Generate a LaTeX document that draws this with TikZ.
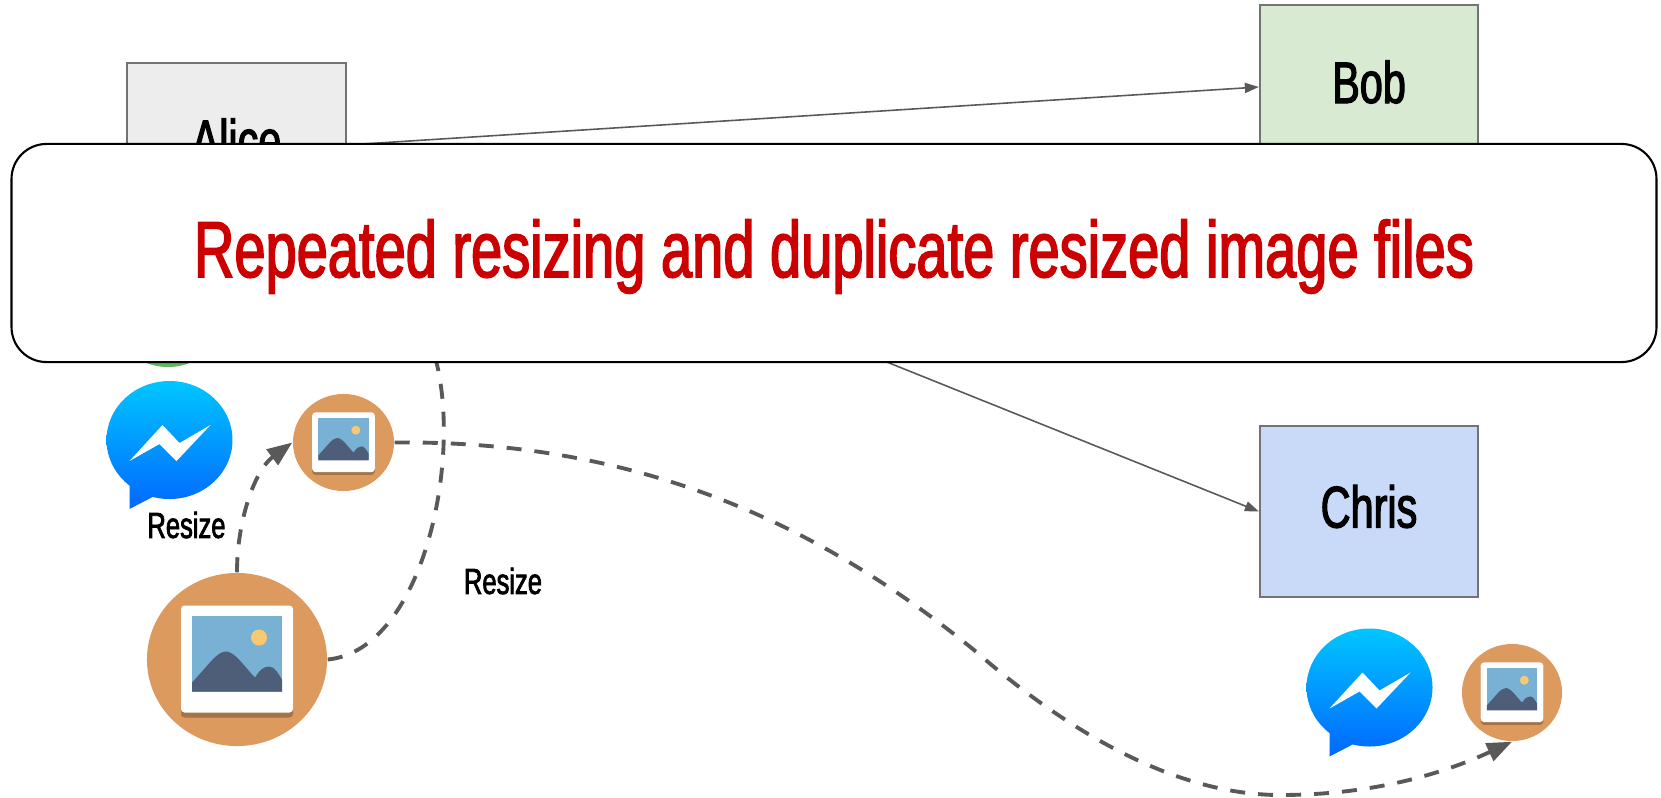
\documentclass[tikz,border=0pt]{standalone}
\usepackage{fontspec}
\setmainfont[FakeStretch=0.705,FakeBold=2]{Liberation Sans}
\usetikzlibrary{arrows.meta,shapes.geometric}
\definecolor{orangeimg}{HTML}{DD9A5E}
\definecolor{linegray}{HTML}{595959}
\tikzset{
  personbox/.style={draw=black!55,line width=0.6pt,minimum width=2.18cm,minimum height=1.71cm,inner sep=0pt,
    text height=0.40cm,text depth=0.08cm,font=\fontsize{16.7}{20}\selectfont},
  imgnode/.style={ellipse,fill=orangeimg,inner sep=0pt},
  resizelabel/.style={inner sep=0pt,font=\fontsize{10.3}{12}\selectfont},
  sendline/.style={draw=linegray,line width=0.45pt,-{Stealth[length=0.14cm,width=0.10cm,inset=0pt]}},
  dashline/.style={draw=linegray,line width=1.1pt,dash pattern=on 0.15cm off 0.13cm},
  dasharrow/.style={dashline,-{Stealth[length=0.25cm,width=0.19cm,inset=0pt]}},
  imgicon/.pic={
    \fill[fill=black!25!orangeimg,rounded corners=1pt] (-56,-50) rectangle (56,58);
    \fill[white,rounded corners=1pt] (-56,-54) rectangle (56,53);
    \fill[fill={rgb,255:red,120;green,177;blue,212}] (-45,-44) rectangle (45,32);
    \fill[fill={rgb,255:red,249;green,200;blue,115}] (22,-22) circle (8);
    \fill[fill={rgb,255:red,79;green,94;blue,120}] (-45,32) -- (-45,23)
      .. controls (-28,5) and (-20,-8) .. (-11,-8)
      .. controls (-2,-8) and (8,8) .. (18,18)
      .. controls (23,10) and (27,7) .. (32,7)
      .. controls (38,7) and (41,14) .. (45,20) -- (45,32) -- cycle;
  },
  messenger/.pic={
    \shade[top color={rgb,255:red,0;green,198;blue,255},bottom color={rgb,255:red,0;green,104;blue,255}]
      (0,0) ellipse (63 and 59) (-40,40) -- (5,40) -- (-15,56) -- (-40,69) -- cycle;
    \fill[white] (-40,21) -- (-7,-15) -- (10,3) -- (41,-15) -- (7,21) -- (-10,4) -- cycle;
  }
}
\begin{document}
\begin{tikzpicture}[x=0.01cm,y=-0.01cm]
\useasboundingbox (0,0) rectangle (1661,797);

\node[personbox,fill=black!7,minimum height=1.64cm] (alice) at (236.5,145) {Alice};
\node[personbox,fill={rgb,255:red,217;green,234;blue,211},minimum height=1.64cm] (bob) at (1369,87) {Bob};
\node[personbox,fill={rgb,255:red,201;green,218;blue,248}] (chris) at (1369,511.5) {Chris};

\fill[fill={rgb,255:red,92;green,184;blue,92}] (168,307) circle (60);

\draw[sendline] (alice.east) -- (bob.west);
\draw[sendline] (alice.east) -- (chris.west);

\node[imgnode,minimum width=1.80cm,minimum height=1.73cm] (bigimg) at (237,659.5) {};
\node[imgnode,minimum width=1.01cm,minimum height=0.97cm] (smallimg) at (343.5,442.5) {};
\node[imgnode,minimum width=1.00cm,minimum height=0.97cm] (farimg) at (1512,692.5) {};
\pic at (bigimg.center) {imgicon};
\pic[scale=0.56] at (smallimg.center) {imgicon};
\pic[scale=0.56] at (farimg.center) {imgicon};

\pic at (169.5,440) {messenger};
\pic at (1369.5,687.5) {messenger};

\node[resizelabel] (resizeone) at (186.5,525) {Resize};
\node[resizelabel] (resizetwo) at (503,581) {Resize};

\coordinate (hiddenend) at (433,350);
\coordinate (curvemid) at (974,650);
\coordinate (curvelow) at (1280,795);
\draw[dasharrow] (bigimg.north) .. controls (237,520) and (255,470) .. (smallimg.west);
\draw[dashline] (bigimg.east) .. controls (425,650) and (465,450) .. (hiddenend);
\draw[dasharrow] (smallimg.east) .. controls (640,440) and (820,525) .. (curvemid)
  .. controls (1060,725) and (1170,795) .. (curvelow)
  .. controls (1370,795) and (1440,775) .. (farimg.south);

\node[draw=black,line width=0.6pt,fill=white,rounded corners=0.35cm,minimum width=16.44cm,minimum height=2.18cm,
  text={rgb,255:red,204;green,0;blue,0},text height=0.66cm,text depth=0.18cm,font=\fontsize{22.6}{26}\selectfont] (banner) at (834,253)
  {Repeated resizing and duplicate resized image files};
\end{tikzpicture}
\end{document}
